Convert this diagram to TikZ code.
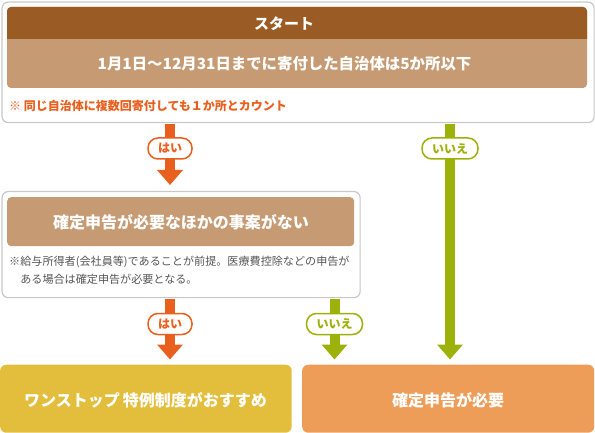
\documentclass[tikz,border=0pt]{standalone}
\usepackage{fontspec}
\setmainfont{Noto Sans CJK JP}
\usetikzlibrary{arrows.meta}
\definecolor{dbrown}{HTML}{9A5B24}
\definecolor{lbrown}{HTML}{C69A72}
\definecolor{oarr}{HTML}{E95F1E}
\definecolor{garr}{HTML}{9CB10A}
\definecolor{ybox}{HTML}{E3BE3C}
\definecolor{obox}{HTML}{EE9D58}
\definecolor{pgray}{HTML}{C8C8C8}
\definecolor{ntext}{HTML}{555555}
\pgfdeclarelayer{front}
\pgfsetlayers{main,front}
\begin{document}
\begin{tikzpicture}[x=1pt,y=-1pt,
  panel/.style={draw=pgray, line width=1.2pt, fill=white, rounded corners=6pt, anchor=north west, inner sep=0pt},
  headtext/.style={text=white, font=\bfseries\fontsize{16}{19}\selectfont, inner sep=0pt},
  endbox/.style={rounded corners=6pt, anchor=north west, inner sep=0pt},
  pill/.style={draw=#1, text=#1, fill=white, line width=1.5pt, rounded corners=10pt, minimum height=21pt, inner xsep=10pt, inner ysep=0pt, font=\bfseries\fontsize{12}{14}\selectfont},
  fatarrow/.style={draw=#1, line width=10pt, -{Triangle[width=25pt,length=15pt]}, shorten >=5pt}
]
\useasboundingbox (0,0) rectangle (595,433);

% panel 1
\node[panel, minimum width=592pt, minimum height=120.5pt] (box1) at (1.5,1.5) {};
\fill[lbrown, rounded corners=4pt] (7,7) rectangle (587,88);
\begin{scope}
  \clip (0,0) rectangle (595,39);
  \fill[dbrown, rounded corners=4pt] (7,7) rectangle (587,88);
\end{scope}
\node[headtext, font=\bfseries\fontsize{15}{18}\selectfont] (start) at (284,23.5) {スタート};
\node[headtext, font=\bfseries\fontsize{15.4}{18}\selectfont] (cond1) at (284.5,63.5) {1月1日～12月31日までに寄付した自治体は5か所以下};
\node[anchor=west, inner sep=0pt, text=oarr, font=\bfseries\fontsize{12}{14}\selectfont] (note1) at (9,106) {※ 同じ自治体に複数回寄付しても１か所とカウント};

% panel 2
\node[panel, minimum width=358pt, minimum height=106pt] (box2) at (1.5,191) {};
\node[fill=lbrown, rounded corners=4pt, anchor=north west, minimum width=347pt, minimum height=49pt, inner sep=0pt] (cond2bg) at (7,197) {};
\node[headtext] (cond2) at (181,222) {確定申告が必要なほかの事案がない};
\node[anchor=north west, inner sep=0pt, text=ntext, align=left, font=\fontsize{11.1}{17.5}\selectfont] (note2) at (9,256) {※給与所得者(会社員等)であることが前提。医療費控除などの申告が\\\hspace{1em}ある場合は確定申告が必要となる。};

% end boxes
\node[endbox, fill=ybox, minimum width=291.5pt, minimum height=68pt] (onestop) at (0,364.5) {};
\node[headtext] at (145.5,400) {ワンストップ\hspace{3pt}特例制度がおすすめ};
\node[endbox, fill=obox, minimum width=292pt, minimum height=68pt] (kakutei) at (302,364.5) {};
\node[headtext] at (448,400) {確定申告が必要};

% labels
\begin{pgfonlayer}{front}
\node[pill=oarr] (yes1) at (170,148.5) {はい};
\node[pill=garr] (no1) at (450,148.5) {いいえ};
\node[pill=oarr] (yes2) at (170,324) {はい};
\node[pill=garr] (no2) at (334.5,324) {いいえ};
\end{pgfonlayer}

% arrows
\draw[fatarrow=oarr, shorten >=6pt, shorten <=0.8pt] (box1.south -| yes1) -- (box2.north -| yes1);
\draw[fatarrow=garr, shorten <=0.8pt] (box1.south -| no1) -- (kakutei.north -| no1);
\draw[fatarrow=oarr, shorten <=0.8pt] (box2.south -| yes2) -- (onestop.north -| yes2);
\draw[fatarrow=garr, shorten <=0.8pt] (box2.south -| no2) -- (kakutei.north -| no2);
\end{tikzpicture}
\end{document}
